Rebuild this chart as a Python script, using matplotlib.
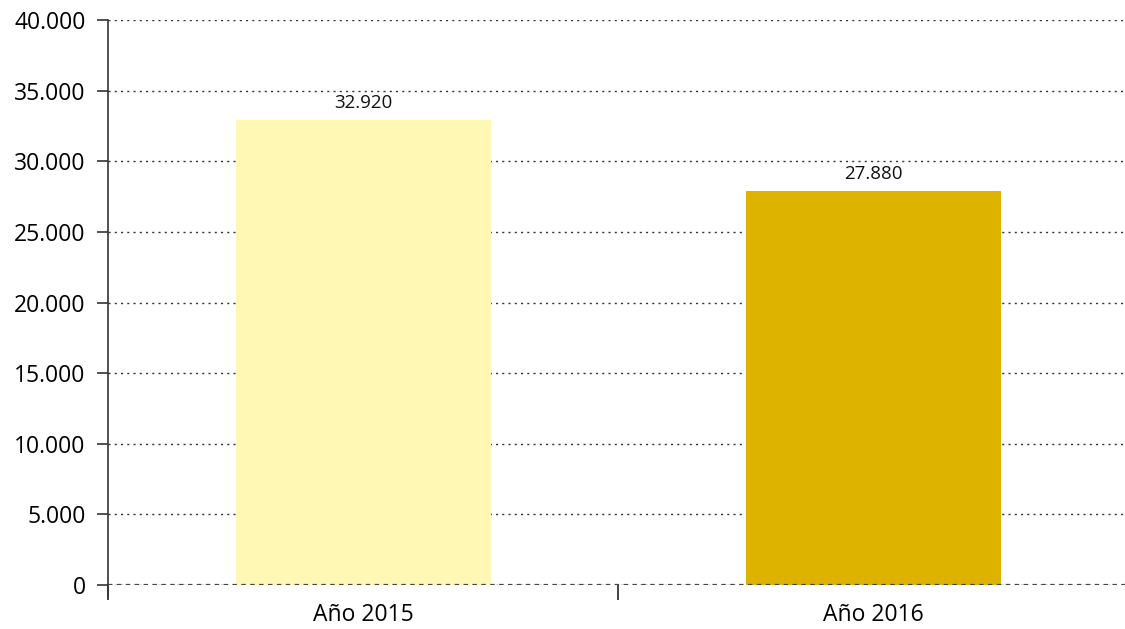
import matplotlib.pyplot as plt
import matplotlib as mpl
from matplotlib.ticker import FuncFormatter

mpl.rcParams["font.family"] = ["Open Sans", "DejaVu Sans"]

categories = ["Año 2015", "Año 2016"]
values = [32920, 27880]
colors = ["#FFF7B4", "#DDB300"]

def miles(v, pos=None):
    return f"{int(v):,}".replace(",", ".")

fig = plt.figure(figsize=(11.25, 6.29), dpi=100)
ax = fig.add_axes([108 / 1125, 44 / 629, 1017 / 1125, 565 / 629])

x = range(len(categories))
ax.bar(x, values, width=0.5, color=colors, zorder=2)

for i, v in enumerate(values):
    ax.text(i, v + 600, miles(v), ha="center", va="bottom", fontsize=13.5, color="#111")

ax.set_xlim(-0.5, -0.5 + 1017 / 510)
ax.set_ylim(0, 40000)
ax.set_yticks(range(0, 40001, 5000))
ax.yaxis.set_major_formatter(FuncFormatter(miles))
ax.grid(axis="y", linestyle=(0, (1.5, 3)), color="#333", lw=1, zorder=1)

ax.set_xticks([0, 1])
ax.set_xticklabels(categories)
ax.set_xticks([-0.5, 0.5], minor=True)
ax.tick_params(axis="x", which="major", length=0, pad=13, labelsize=16.5)
ax.tick_params(axis="x", which="minor", length=11, width=1.2, color="#222")
ax.tick_params(axis="y", length=8, width=1.2, color="#333", labelsize=16.5, pad=8)

for s in ["top", "right", "bottom"]:
    ax.spines[s].set_visible(False)
ax.spines["left"].set_color("#333")
ax.spines["left"].set_linewidth(1.2)
ax.spines["left"].set_bounds(-800, 40000)
ax.axhline(0, linestyle=(0, (2, 2)), color="#444", lw=1.6, zorder=3)

fig.savefig("out.png", dpi=100)
